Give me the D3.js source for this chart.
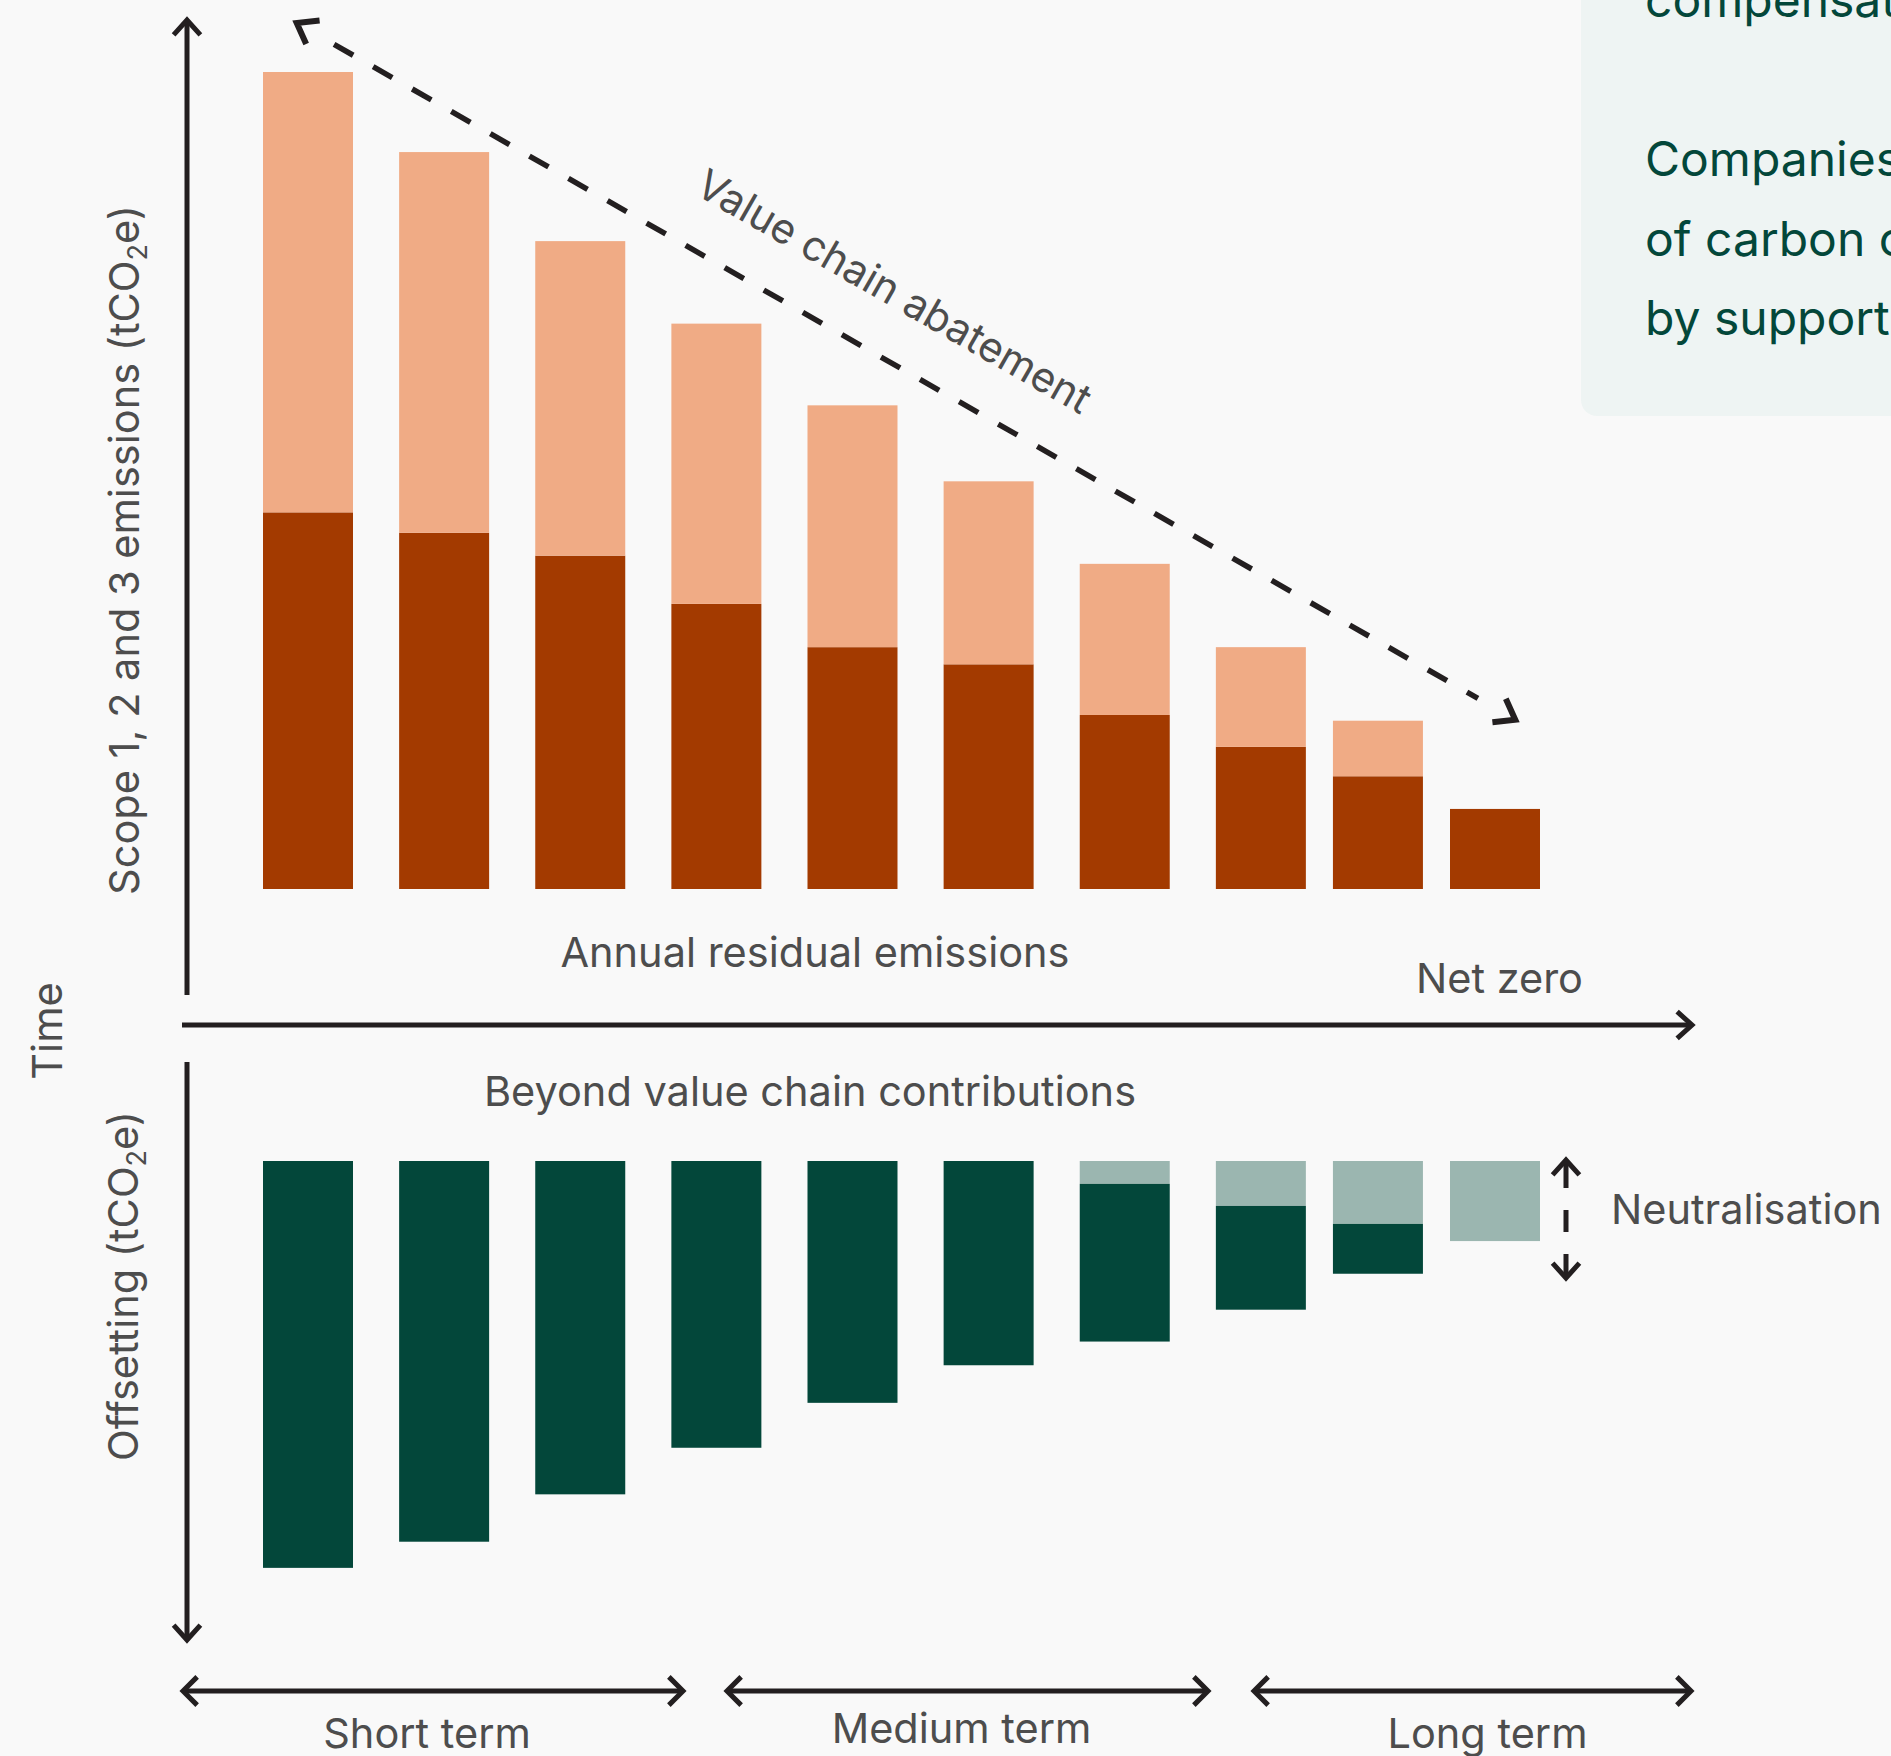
<!DOCTYPE html>
<html>
<head>
<meta charset="utf-8">
<script src="https://cdn.jsdelivr.net/npm/d3@7"></script>
<style>
  body { margin: 0; background: #f9f9f9; }
  svg { display: block; }
  text { font-family: Inter, "Noto Sans", sans-serif; }
</style>
</head>
<body>
<svg id="chart"></svg>
<script>
// time steps of the ten bars (the last two are closer together)
const periods = [0, 1, 2, 3, 4, 5, 6, 7, 7.86, 8.72];
// scope 1, 2, 3 emissions split (tCO2e, relative units)
const residual = [46.1, 43.6, 40.8, 34.9, 29.6, 27.5, 21.3, 17.4, 13.8, 9.8];
const abatement = [53.9, 46.6, 38.5, 34.3, 29.6, 22.4, 18.5, 12.2, 6.8, 0];
// offsetting
const neutralisation = [0, 0, 0, 0, 0, 0, 2.8, 5.5, 7.7, 9.8];
const contributions = [49.8, 46.6, 40.8, 35.1, 29.6, 25.0, 19.3, 12.7, 6.1, 0];
const terms = ["Short term", "Medium term", "Long term"];
const boxLines = ["compensation", "", "Companies can", "of carbon credits", "by supporting"];

const W = 1891, H = 1756;
const ink = "#231f20", grey = "#4d4d4d";
const fs = "41.5px";
const colors = {
    abatement: "#f0ab85",
    residual: "#a33a00",
    contributions: "#03473a",
    neutralisation: "#9bb6b0"
};

const svg = d3.select("#chart").attr("width", W).attr("height", H);

const barW = 90;
const xScale = d3.scaleLinear().domain([0, 8.72]).range([308, 1495]);
const yUp = d3.scaleLinear().domain([0, 100]).range([889, 72]);
const yDown = d3.scaleLinear().domain([0, 100]).range([1161, 1978]);

// info box top right
svg.append("rect")
    .attr("x", 1581).attr("y", -30)
    .attr("width", 400).attr("height", 446)
    .attr("rx", 16)
    .attr("fill", "#eef4f3");

svg.selectAll("text.box")
    .data(boxLines)
    .join("text")
    .attr("class", "box")
    .attr("x", 1645)
    .attr("y", (d, i) => 17 + i * 79.5)
    .style("font-size", "48px")
    .attr("fill", "#03473a")
    .text(d => d);

// upper stacked bars
const upper = svg.append("g");
upper.selectAll("rect.res")
    .data(residual)
    .join("rect")
    .attr("class", "res")
    .attr("x", (d, i) => xScale(periods[i]) - barW / 2)
    .attr("width", barW)
    .attr("y", d => yUp(d))
    .attr("height", d => yUp(0) - yUp(d))
    .attr("fill", colors.residual);

upper.selectAll("rect.aba")
    .data(abatement)
    .join("rect")
    .attr("class", "aba")
    .attr("x", (d, i) => xScale(periods[i]) - barW / 2)
    .attr("width", barW)
    .attr("y", (d, i) => yUp(d + residual[i]))
    .attr("height", d => yUp(0) - yUp(d))
    .attr("fill", colors.abatement);

// lower bars, hanging down from the time axis
const lower = svg.append("g");
lower.selectAll("rect.neu")
    .data(neutralisation)
    .join("rect")
    .attr("class", "neu")
    .attr("x", (d, i) => xScale(periods[i]) - barW / 2)
    .attr("width", barW)
    .attr("y", yDown(0))
    .attr("height", d => yDown(d) - yDown(0))
    .attr("fill", colors.neutralisation);

lower.selectAll("rect.con")
    .data(contributions)
    .join("rect")
    .attr("class", "con")
    .attr("x", (d, i) => xScale(periods[i]) - barW / 2)
    .attr("width", barW)
    .attr("y", (d, i) => yDown(neutralisation[i]))
    .attr("height", d => yDown(d) - yDown(0))
    .attr("fill", colors.contributions);

// arrows
function chevron(g, tip, ang, len = 20, spread = 42, sw = 5) {
    const a = ang + Math.PI, s = spread * Math.PI / 180;
    const p1 = [tip[0] + len * Math.cos(a - s), tip[1] + len * Math.sin(a - s)];
    const p2 = [tip[0] + len * Math.cos(a + s), tip[1] + len * Math.sin(a + s)];
    g.append("path")
        .attr("d", "M" + p1 + "L" + tip + "L" + p2)
        .attr("fill", "none")
        .attr("stroke", ink)
        .attr("stroke-width", sw)
        .attr("stroke-linejoin", "miter");
}
function line(g, a, b, width = 5) {
    return g.append("line")
        .attr("x1", a[0]).attr("y1", a[1])
        .attr("x2", b[0]).attr("y2", b[1])
        .attr("stroke", ink)
        .attr("stroke-width", width);
}

const axes = svg.append("g");
line(axes, [187, 995], [187, 22]);
chevron(axes, [187, 20], -Math.PI / 2);
line(axes, [187, 1062], [187, 1638]);
chevron(axes, [187, 1640], Math.PI / 2);
line(axes, [182, 1025], [1690, 1025]);
chevron(axes, [1692, 1025], 0);

// value chain abatement dashed arrow
const p0 = [xScale(periods[0]) - 13, yUp(residual[0] + abatement[0]) - 50];
const p1 = [xScale(periods[9]) + 22, yUp(residual[8] + abatement[8])];
const dx = p1[0] - p0[0], dy = p1[1] - p0[1];
const len = Math.hypot(dx, dy), ang = Math.atan2(dy, dx);
const ux = dx / len, uy = dy / len;
const ann = svg.append("g");
line(ann, [p0[0] + 45 * ux, p0[1] + 45 * uy], [p1[0] - 45 * ux, p1[1] - 45 * uy], 5.5)
    .attr("stroke-dasharray", "22,23");
chevron(ann, [p0[0] + 2 * ux, p0[1] + 2 * uy], ang + Math.PI, 23, 36, 6);
chevron(ann, [p1[0] - 2 * ux, p1[1] - 2 * uy], ang, 23, 36, 6);

const along = 654;
ann.append("text")
    .attr("transform", `translate(${p0[0] + along * ux},${p0[1] + along * uy}) rotate(${ang * 180 / Math.PI})`)
    .attr("y", -49)
    .attr("text-anchor", "middle")
    .style("font-size", fs)
    .attr("fill", grey)
    .text("Value chain abatement");

// neutralisation arrow
const nx = xScale(periods[9]) + barW / 2 + 26;
line(ann, [nx, 1162], [nx, 1276]).attr("stroke-dasharray", "26,22,22,22");
chevron(ann, [nx, 1160], -Math.PI / 2, 20, 42);
chevron(ann, [nx, 1278], Math.PI / 2, 20, 42);

// time period arrows
const termSpans = [[183, 683], [727, 1208], [1254, 1691]];
const termBase = [1748, 1743, 1748];
termSpans.forEach((s, i) => {
    line(ann, [s[0] + 2, 1691], [s[1] - 2, 1691]);
    chevron(ann, [s[0], 1691], Math.PI, 20, 45);
    chevron(ann, [s[1], 1691], 0, 20, 45);
    ann.append("text")
        .attr("x", (s[0] + s[1]) / 2 + (i == 2 ? 15 : -6))
        .attr("y", termBase[i])
        .attr("text-anchor", "middle")
        .style("font-size", fs)
        .attr("fill", grey)
        .text(terms[i]);
});

// labels
function label(x, y, txt, anchor = "start") {
    return svg.append("text")
        .attr("x", x).attr("y", y)
        .attr("text-anchor", anchor)
        .style("font-size", fs)
        .attr("fill", grey)
        .text(txt);
}
label(815, 967, "Annual residual emissions", "middle");
label(1583, 993, "Net zero", "end");
label(810, 1106, "Beyond value chain contributions", "middle");
label(1611, 1224, "Neutralisation");

function rotLabel(x, y, parts) {
    const t = svg.append("text")
        .attr("transform", `translate(${x},${y}) rotate(-90)`)
        .attr("text-anchor", "middle")
        .style("font-size", fs)
        .attr("fill", grey);
    parts.forEach(p => {
        const ts = t.append("tspan").text(p[0]);
        if (p[1]) ts.style("font-size", "27px").attr("dy", p[1]);
        if (p[2]) ts.attr("dy", p[2]);
    });
    return t;
}
rotLabel(139, 550, [["Scope 1, 2 and 3 emissions (tCO"], ["2", 8], ["e)", null, -8]]);
rotLabel(138, 1286, [["Offsetting (tCO"], ["2", 8], ["e)", null, -8]]);
rotLabel(62, 1031, [["Time"]]);
</script>
</body>
</html>
